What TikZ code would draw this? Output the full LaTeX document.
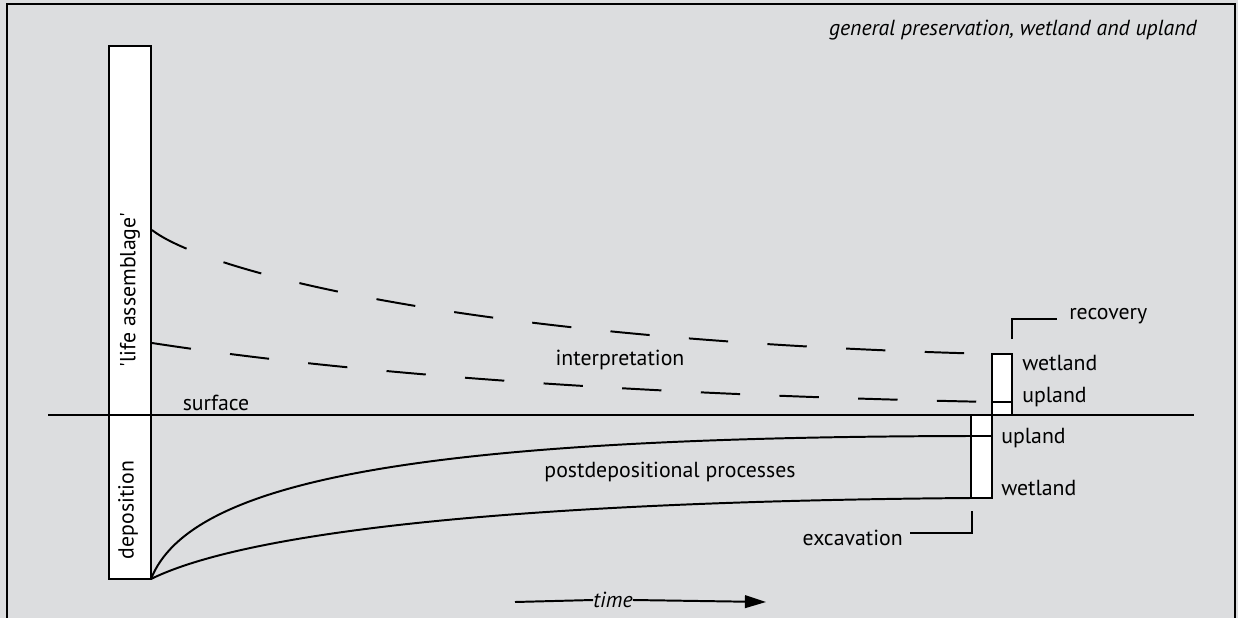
\documentclass[tikz,border=0pt]{standalone}
\usepackage{fontspec}
\setmainfont{PT Sans}
\usetikzlibrary{arrows.meta}
\definecolor{panel}{RGB}{220,221,223}
\begin{document}
\begin{tikzpicture}[x=0.025cm,y=-0.025cm,
    lbl/.style={font=\fontsize{15.5}{18}\selectfont,inner sep=0pt},
    bar/.style={draw,fill=white,line width=1.4pt},
    curve/.style={line width=1.4pt},
    dashcurve/.style={line width=1.4pt,dash pattern=on 28pt off 28pt}]
    \useasboundingbox (0,0) rectangle (1238,618);
    \fill[panel] (0,0) rectangle (1238,618);
    \draw[line width=1.4pt] (7,618) -- (7,4) -- (1235,4) -- (1235,618);

    % columns
    \coordinate (lifeTop) at (109,46);
    \coordinate (lifeBase) at (151,579);
    \coordinate (recTop) at (992,354);
    \coordinate (recMid) at (992,402);
    \coordinate (excUp) at (971,436);
    \coordinate (excLow) at (971,498);
    \coordinate (surfL) at (48,415);
    \coordinate (surfR) at (1194,415);

    \draw[curve] (surfL) -- (surfR);
    \draw[bar] (lifeTop) rectangle (lifeBase);
    \draw[curve] (109,415) -- (151,415);
    \draw[bar] (recTop) rectangle (1012,415);
    \draw[curve] (recMid) -- (1012,402);
    \draw[bar] (971,415) rectangle (992,498);
    \draw[curve] (excUp) -- (992,436);

    \node[lbl,rotate=90] (life) at (130,290) {\textquotesingle life assemblage\textquotesingle};
    \node[lbl,rotate=90] (depo) at (128,510) {deposition};

    % curves
    \coordinate (lifeA) at (152,230);
    \coordinate (lifeB) at (152,343);
    \draw[dashcurve] (lifeA) .. controls (200,268) and (450,340) .. (recTop);
    \draw[dashcurve] (lifeB) .. controls (250,358) and (500,392) .. (recMid);
    \draw[curve] (lifeBase) .. controls (190,480) and (420,437) .. (excUp);
    \draw[curve] (lifeBase) .. controls (230,540) and (450,502) .. (excLow);

    % brackets
    \coordinate (recHook) at (1012,339);
    \coordinate (excHook) at (972,511);
    \node[lbl,anchor=west] (recovery) at (1069,316) {recovery};
    \node[lbl,anchor=east] (excavation) at (903,538) {excavation};
    \draw[curve] (recHook) |- (1057,319);
    \draw[curve] (excHook) |- (910,533);

    % labels
    \node[lbl,anchor=west] (wetR) at (1022,363) {wetland};
    \node[lbl,anchor=west] (upR) at (1022,397) {upland};
    \node[lbl,anchor=west] (upE) at (1001,438) {upland};
    \node[lbl,anchor=west] (wetE) at (1001,488) {wetland};
    \node[lbl] (surface) at (216,403) {surface};
    \node[lbl] (interp) at (620,360) {interpretation};
    \node[lbl] (postdep) at (670,472) {postdepositional processes};
    \node[lbl,font=\fontsize{15.5}{18}\selectfont\itshape,anchor=east] (title) at (1197,30) {general preservation, wetland and upland};

    % time arrow
    \node[lbl,font=\fontsize{15.5}{18}\selectfont\itshape] (time) at (613,600) {time};
    \coordinate (timeL) at (515,602);
    \coordinate (timeR) at (766,602);
    \draw[curve] (timeL) -- (time.west);
    \draw[curve,-{Triangle[length=15pt,width=9pt]}] (time.east) -- (timeR);
\end{tikzpicture}
\end{document}
